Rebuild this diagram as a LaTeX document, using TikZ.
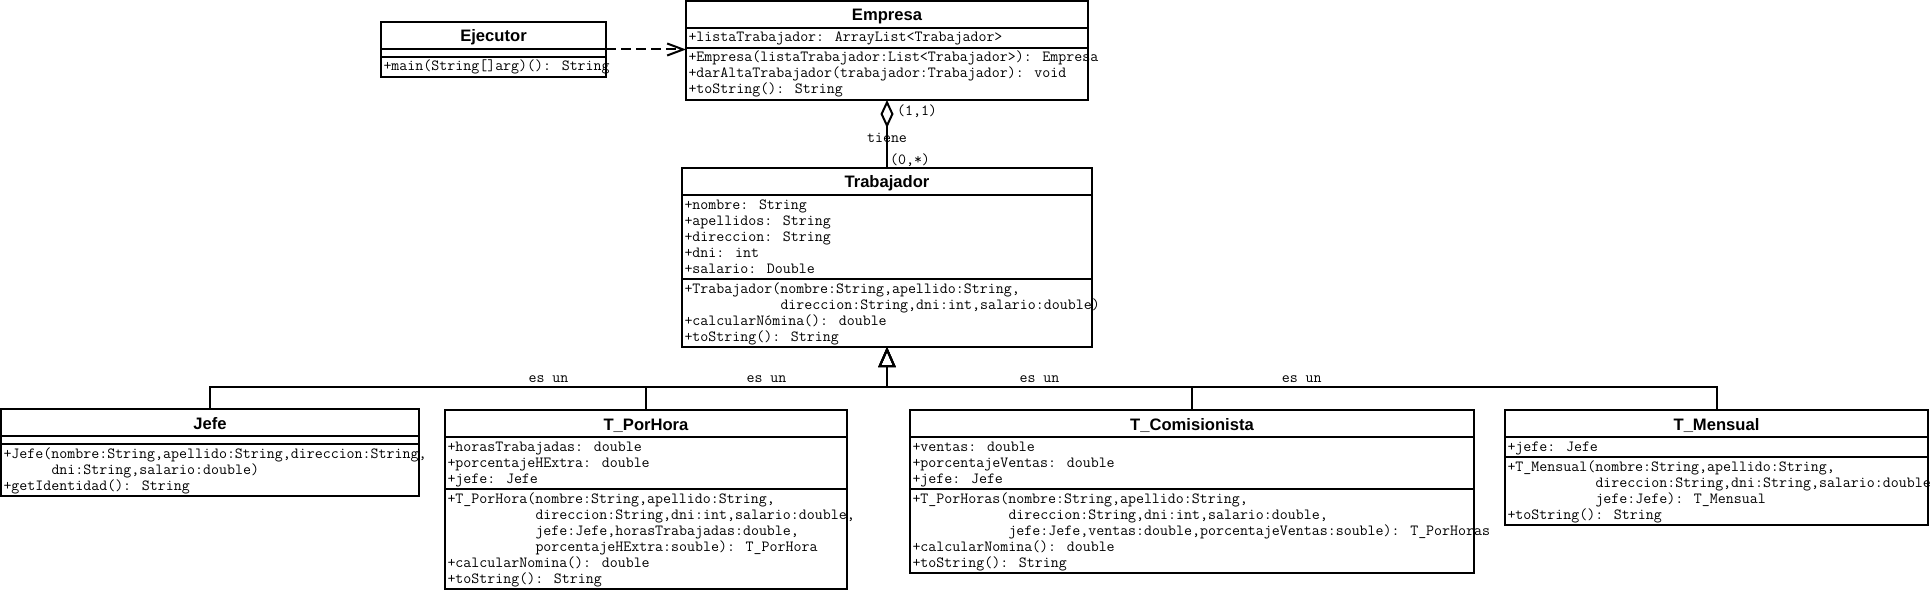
\documentclass[tikz,border=0pt]{standalone}
\usepackage{fontspec}
\setmainfont{Liberation Sans}
\usetikzlibrary{arrows.meta,calc}
\newcommand\monof{\ttfamily\fontsize{15.5}{16}\selectfont}
\newcommand\titlef{\rmfamily\bfseries\fontsize{16.6}{19}\selectfont}
\tikzset{
  classbox/.style={draw, line width=2pt, inner sep=0pt, outer sep=0pt, fill=white},
  sepline/.style={line width=2pt},
  mono/.style={font=\monof, inner sep=0pt, outer sep=0pt},
  titletxt/.style={font=\titlef, inner sep=0pt},
  conn/.style={line width=2pt},
  lbl/.style={font=\monof, inner sep=0pt},
  gen/.style={conn, -{Triangle[open, length=20pt, width=17pt]}},
}
% #1 name #2 x1 #3 x2 #4 ytop #5 title #6 nattr #7 attrs #8 nmeth #9 methods
\newcommand\umlclass[9]{%
  \pgfmathsetmacro\ya{#4+27}%
  \pgfmathsetmacro\yb{\ya+ifthenelse(#6==0,8,16*#6+4)}%
  \pgfmathsetmacro\yc{\yb+16*#8+4}%
  \pgfmathsetmacro\bw{#3-#2}%
  \pgfmathsetmacro\bh{\yc-#4}%
  \node[classbox, minimum width=\bw pt, minimum height=\bh pt, anchor=north west] (#1) at (#2,#4) {};
  \draw[sepline] (#2,\ya) -- (#3,\ya);
  \draw[sepline] (#2,\yb) -- (#3,\yb);
  \node[titletxt, anchor=base] (#1-title) at ({(#2+#3)/2},#4+20) {#5};
  \ifnum#6>0
    \foreach \cl [count=\idx] in {#7} {\node[mono, anchor=base west] (#1-a\idx) at (#2+2.5,{\ya+14+16*(\idx-1)}) {\cl};}
  \fi
  \foreach \cl [count=\idx] in {#9} {\node[mono, anchor=base west] (#1-m\idx) at (#2+2.5,{\yb+14+16*(\idx-1)}) {\cl};}
}
\begin{document}
\begin{tikzpicture}[x=1pt,y=-1pt]
\useasboundingbox (0,0) rectangle (1931,591);

\umlclass{ejec}{381}{606}{22}{Ejecutor}{0}{}{1}{{+main(String[]arg)(): String}}

\umlclass{empr}{686}{1088}{1}{Empresa}{1}{{+listaTrabajador: ArrayList<Trabajador>}}{3}{%
  {+Empresa(listaTrabajador:List<Trabajador>): Empresa},
  {+darAltaTrabajador(trabajador:Trabajador): void},
  {+toString(): String}}

\umlclass{trab}{682}{1092}{168}{Trabajador}{5}{%
  {+nombre: String},{+apellidos: String},{+direccion: String},{+dni: int},{+salario: Double}}{4}{%
  {+Trabajador(nombre:String,apellido:String,},
  {\hspace*{96pt}direccion:String,dni:int,salario:double)},
  {+calcularNómina(): double},
  {+toString(): String}}

\umlclass{jefe}{1}{419}{409}{Jefe}{0}{}{3}{%
  {+Jefe(nombre:String,apellido:String,direccion:String,},
  {\hspace*{48pt}dni:String,salario:double)},
  {+getIdentidad(): String}}

\umlclass{tph}{445}{847}{410}{T\_PorHora}{3}{%
  {+horasTrabajadas: double},{+porcentajeHExtra: double},{+jefe: Jefe}}{6}{%
  {+T\_PorHora(nombre:String,apellido:String,},
  {\hspace*{88pt}direccion:String,dni:int,salario:double,},
  {\hspace*{88pt}jefe:Jefe,horasTrabajadas:double,},
  {\hspace*{88pt}porcentajeHExtra:souble): T\_PorHora},
  {+calcularNomina(): double},
  {+toString(): String}}

\umlclass{tcom}{910}{1474}{410}{T\_Comisionista}{3}{%
  {+ventas: double},{+porcentajeVentas: double},{+jefe: Jefe}}{5}{%
  {+T\_PorHoras(nombre:String,apellido:String,},
  {\hspace*{96pt}direccion:String,dni:int,salario:double,},
  {\hspace*{96pt}jefe:Jefe,ventas:double,porcentajeVentas:souble): T\_PorHoras},
  {+calcularNomina(): double},
  {+toString(): String}}

\umlclass{tmen}{1505}{1928}{410}{T\_Mensual}{1}{{+jefe: Jefe}}{4}{%
  {+T\_Mensual(nombre:String,apellido:String,},
  {\hspace*{88pt}direccion:String,dni:String,salario:double,},
  {\hspace*{88pt}jefe:Jefe): T\_Mensual},
  {+toString(): String}}

% dependency
\draw[conn, dash pattern=on 10pt off 5pt, -{Straight Barb[length=16pt, width=12pt]}]
  (ejec.east) -- (ejec.east -| empr.west);

% aggregation
\draw[conn, -{Diamond[open, length=28pt, width=13pt]}] (trab.north) -- (trab.north |- empr.south);
\node[lbl] (m11) at ($(empr.south)+(30,11)$) {(1,1)};
\node[lbl] (tiene) at ($(trab.north)+(0,-30)$) {tiene};
\node[lbl] (m0s) at ($(trab.north)+(23,-8)$) {(0,*)};

% generalization
\draw[gen] (jefe.north) -- ++(0,-22) -| node[lbl, pos=0.25, yshift=8pt] (l1) {es un} (trab.south);
\draw[gen] (tph.north) -- ++(0,-23) -| node[lbl, pos=0.25, yshift=8pt] (l2) {es un} (trab.south);
\draw[gen] (tcom.north) -- ++(0,-23) -| node[lbl, pos=0.25, yshift=8pt] (l3) {es un} (trab.south);
\draw[gen] (tmen.north) -- ++(0,-23) -| node[lbl, pos=0.25, yshift=8pt] (l4) {es un} (trab.south);
\end{tikzpicture}
\end{document}
